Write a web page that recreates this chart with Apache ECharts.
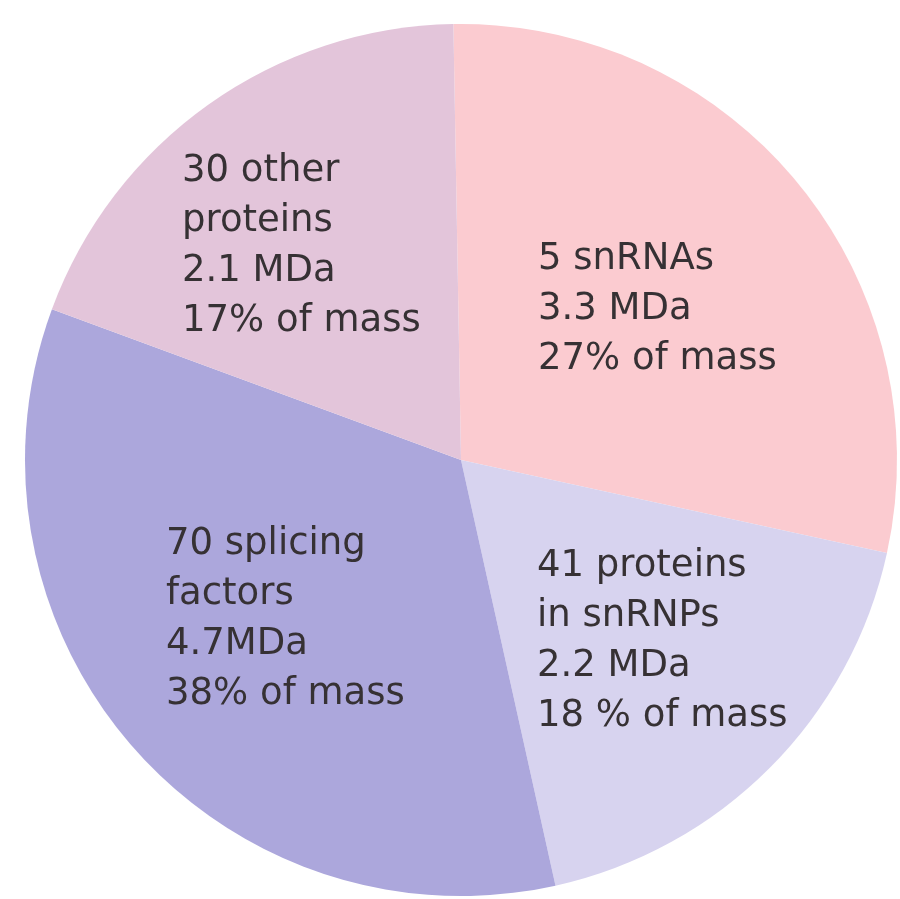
<!DOCTYPE html>
<html>
<head>
<meta charset="utf-8">
<script src="https://cdn.jsdelivr.net/npm/echarts@6/dist/echarts.min.js"></script>
<style>
html,body{margin:0;padding:0;background:#fff;}
#chart{width:900px;height:899px;}
</style>
</head>
<body>
<div id="chart"></div>
<script>
// Slice names, drawn angular shares and label texts
const categories = ['5 snRNAs', '41 proteins in snRNPs', '70 splicing factors', '30 other proteins'];
const sliceShares = [28.7, 18.1, 34.1, 19.1];
const massMDa = ['3.3 MDa', '2.2 MDa', '4.7MDa', '2.1 MDa'];
const massPercent = ['27% of mass', '18 % of mass', '38% of mass', '17% of mass'];
const labelLines = [
  ['5 snRNAs'],
  ['41 proteins', 'in snRNPs'],
  ['70 splicing', 'factors'],
  ['30 other', 'proteins']
];

// styling / layout (kept separate from data)
const sliceColors = ['#fbcbd0', '#d7d3ef', '#aca7dc', '#e3c5da'];
const labelAnchors = [[538, 234], [537, 541], [166, 519], [182, 146]];

const chart = echarts.init(document.getElementById('chart'), null, {renderer: 'canvas'});
chart.setOption({
  backgroundColor: '#ffffff',
  animation: false,
  series: [{
    type: 'pie',
    center: [461, 460],
    radius: [0, 436],
    startAngle: 91,
    clockwise: true,
    avoidLabelOverlap: false,
    emphasis: {disabled: true},
    itemStyle: {borderWidth: 0},
    label: {
      show: true,
      position: 'inside',
      fontFamily: 'DejaVu Sans',
      fontSize: 37,
      lineHeight: 50,
      color: '#363134',
      align: 'left',
      formatter: function (p) {
        const i = p.dataIndex;
        return labelLines[i].concat([massMDa[i], massPercent[i]]).join('\n');
      }
    },
    labelLine: {show: false},
    labelLayout: function (p) {
      const a = labelAnchors[p.dataIndex];
      return {x: a[0], y: a[1], align: 'left', verticalAlign: 'top'};
    },
    data: categories.map(function (name, i) {
      return {name: name, value: sliceShares[i], itemStyle: {color: sliceColors[i]}};
    })
  }]
});
</script>
</body>
</html>
